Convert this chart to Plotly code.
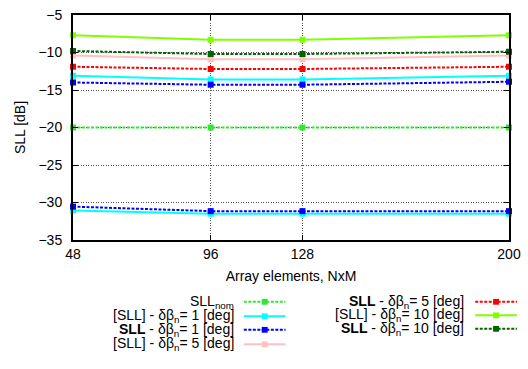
import plotly.graph_objects as go

x_elems = [48, 96, 128, 200]

sll_nom = [-20.0, -20.0, -20.0, -20.0]
sll_b1_bracket = [-31.05, -31.5, -31.5, -31.5]
sll_b1 = [-30.55, -31.15, -31.15, -31.15]
sll_b1_bracket_b = [-13.1, -13.6, -13.6, -13.1]
sll_b1_b = [-14.0, -14.3, -14.3, -13.9]
sll_b5_bracket = [-10.4, -10.9, -10.9, -10.4]
sll_b5 = [-11.9, -12.2, -12.2, -11.9]
sll_b10_bracket = [-7.7, -8.3, -8.3, -7.7]
sll_b10 = [-9.8, -10.2, -10.2, -9.9]

names = [
    "SLL<sub>nom</sub>",
    "[SLL] - δβ<sub>n</sub>= 1 [deg]",
    "<b>SLL</b> - δβ<sub>n</sub>= 1 [deg]",
    "[SLL] - δβ<sub>n</sub>= 5 [deg]",
    "<b>SLL</b> - δβ<sub>n</sub>= 5 [deg]",
    "[SLL] - δβ<sub>n</sub>= 10 [deg]",
    "<b>SLL</b> - δβ<sub>n</sub>= 10 [deg]",
]
colors = ["#33e633", "#00ffff", "#0000ff", "#ffc0c0", "#ff0000", "#80ff00", "#006400"]
DASH = "3px,1.5px"
dashes = [DASH, "solid", DASH, "solid", DASH, "solid", DASH]
series = [sll_nom, sll_b1_bracket, sll_b1, sll_b5_bracket, sll_b5, sll_b10_bracket, sll_b10]

fig = go.Figure()
font = dict(family="Liberation Sans, Arial", size=14, color="black")

def add(vals, i):
    fig.add_trace(go.Scatter(
        x=x_elems, y=vals, mode="lines+markers",
        line=dict(color=colors[i], width=2, dash=dashes[i]),
        marker=dict(symbol="square", size=6, color=colors[i]),
        showlegend=False, cliponaxis=False))

add(sll_b1_bracket_b, 1)
add(sll_b1_b, 2)
for i, s in enumerate(series):
    add(s, i)

L, R, T, B = 73, 512, 7, 240
fig.update_layout(
    width=528, height=369,
    margin=dict(l=L, r=528 - R, t=T, b=369 - B),
    paper_bgcolor="white", plot_bgcolor="white",
    font=font,
    xaxis=dict(
        range=[48, 200], tickvals=x_elems, ticktext=[str(v) for v in x_elems],
        showgrid=True, gridcolor="#555555", griddash="1px,1.5px", gridwidth=1,
        showline=True, linecolor="black", linewidth=2, mirror="allticks",
        ticks="inside", ticklen=5, tickcolor="black", zeroline=False,
        ticklabeloverflow="allow",
        title=dict(text="Array elements, NxM", standoff=10, font=font),
        tickfont=font),
    yaxis=dict(
        range=[-35, -5], dtick=5, tick0=-35,
        showgrid=True, gridcolor="#555555", griddash="1px,1.5px", gridwidth=1,
        showline=True, linecolor="black", linewidth=2, mirror="allticks",
        ticks="inside", ticklen=5, tickcolor="black", zeroline=False,
        ticklabelstandoff=6, ticklabeloverflow="allow",
        title=dict(text="SLL [dB]", standoff=10, font=font),
        tickfont=font),
)

# manual legend (text right-aligned, sample on the right), positions in pixels
def px(xp):
    return (xp - L) / (R - L)

def py(yp):
    return (B - yp) / (B - T)

rows_y = [[304, 319, 333, 348], [304, 318, 332]]
col_text_x = [237, 469]
col_line_x = [(245, 287), (478, 520)]
for k in range(len(names)):
    col = 0 if k < 4 else 1
    row = k if k < 4 else k - 4
    ypx = rows_y[col][row]
    yp = py(ypx)
    fig.add_annotation(x=px(col_text_x[col]), y=yp, xref="paper", yref="paper",
                       text=names[k], showarrow=False, xanchor="right", yanchor="middle",
                       font=font)
    x0, x1 = col_line_x[col]
    fig.add_shape(type="line", xref="paper", yref="paper",
                  x0=px(x0), x1=px(x1), y0=yp, y1=yp,
                  line=dict(color=colors[k], width=2, dash=dashes[k]))
    xm = (x0 + x1) / 2
    fig.add_shape(type="rect", xref="paper", yref="paper",
                  x0=px(xm - 3), x1=px(xm + 3), y0=py(ypx + 3), y1=py(ypx - 3),
                  line=dict(width=0), fillcolor=colors[k])

fig.write_html("out.html")
